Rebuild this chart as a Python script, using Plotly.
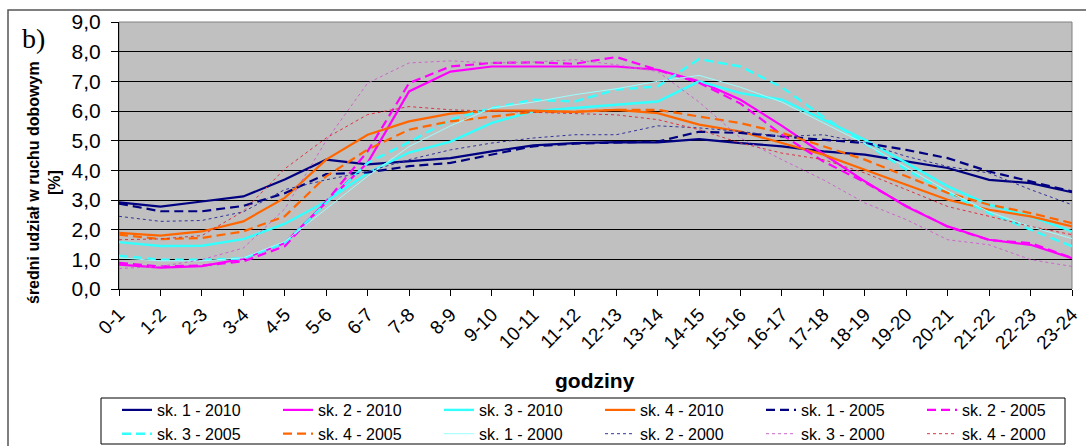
import plotly.graph_objects as go

# ---------------- data ----------------
hours = ["0-1", "1-2", "2-3", "3-4", "4-5", "5-6", "6-7", "7-8", "8-9", "9-10",
         "10-11", "11-12", "12-13", "13-14", "14-15", "15-16", "16-17", "17-18",
         "18-19", "19-20", "20-21", "21-22", "22-23", "23-24"]

sk1_2010 = [2.92, 2.78, 2.95, 3.12, 3.69, 4.36, 4.20, 4.30, 4.41, 4.64, 4.84, 4.92,
            4.95, 4.94, 5.05, 4.92, 4.81, 4.64, 4.53, 4.30, 4.08, 3.68, 3.57, 3.26]
sk2_2010 = [0.82, 0.72, 0.77, 1.02, 1.55, 2.92, 4.25, 6.66, 7.33, 7.50, 7.50, 7.50,
            7.50, 7.39, 7.00, 6.38, 5.50, 4.55, 3.63, 2.78, 2.11, 1.66, 1.49, 1.04]
sk3_2010 = [1.58, 1.45, 1.46, 1.68, 2.20, 2.95, 3.91, 4.60, 4.97, 5.60, 5.99, 6.10,
            6.21, 6.32, 7.00, 6.60, 6.38, 5.71, 5.03, 4.25, 3.46, 2.84, 2.45, 1.94]
sk4_2010 = [1.89, 1.80, 1.94, 2.28, 3.07, 4.36, 5.20, 5.65, 5.91, 6.01, 6.01, 5.97,
            6.04, 5.93, 5.54, 5.31, 4.92, 4.53, 4.02, 3.52, 3.01, 2.67, 2.45, 2.11]
sk1_2005 = [2.88, 2.62, 2.62, 2.80, 3.23, 3.87, 3.93, 4.14, 4.25, 4.53, 4.81, 4.90,
            4.94, 4.97, 5.30, 5.26, 5.14, 5.03, 4.92, 4.69, 4.41, 3.96, 3.63, 3.29]
sk2_2005 = [0.88, 0.76, 0.79, 0.93, 1.44, 2.95, 4.64, 6.94, 7.50, 7.62, 7.64, 7.59,
            7.82, 7.39, 6.95, 6.25, 5.20, 4.30, 3.60, 2.80, 2.10, 1.65, 1.55, 1.05]
sk3_2005 = [1.12, 0.99, 0.99, 1.03, 1.55, 2.90, 4.25, 4.95, 5.71, 6.10, 6.38, 6.32,
            6.72, 6.83, 7.75, 7.50, 6.80, 5.80, 4.92, 4.02, 3.24, 2.56, 2.00, 1.44]
sk4_2005 = [1.83, 1.68, 1.72, 1.94, 2.45, 3.80, 4.70, 5.37, 5.65, 5.82, 5.97, 5.97,
            6.04, 6.04, 5.82, 5.59, 5.26, 4.81, 4.36, 3.80, 3.24, 2.84, 2.56, 2.22]
sk1_2000 = [1.05, 0.95, 0.95, 1.05, 1.60, 2.70, 3.80, 4.80, 5.50, 6.10, 6.30, 6.55,
            6.75, 7.00, 7.20, 6.80, 6.30, 5.60, 4.90, 4.10, 3.30, 2.60, 2.10, 1.70]
sk2_2000 = [2.45, 2.28, 2.31, 2.60, 3.35, 3.68, 3.96, 4.36, 4.69, 4.92, 5.09, 5.20,
            5.20, 5.50, 5.43, 5.31, 5.14, 5.20, 4.92, 4.47, 4.13, 3.91, 3.35, 2.84]
sk3_2000 = [0.69, 0.76, 0.99, 1.38, 2.70, 5.00, 6.94, 7.62, 7.69, 7.62, 7.65, 7.73,
            7.56, 7.33, 6.30, 5.09, 4.36, 3.68, 2.90, 2.34, 1.66, 1.49, 0.99, 0.76]
sk4_2000 = [1.66, 1.69, 1.80, 2.62, 4.05, 5.09, 5.88, 6.15, 6.04, 6.00, 5.97, 5.93,
            5.87, 5.71, 5.37, 4.92, 4.58, 4.36, 3.91, 3.35, 2.78, 2.45, 2.11, 1.83]

y_ticks = [0, 1, 2, 3, 4, 5, 6, 7, 8, 9]

series = [
    ("sk. 1 - 2010", sk1_2010, "#000080", 2.2, "solid"),
    ("sk. 2 - 2010", sk2_2010, "#FF00FF", 2.2, "solid"),
    ("sk. 3 - 2010", sk3_2010, "#33FFFF", 2.4, "solid"),
    ("sk. 4 - 2010", sk4_2010, "#FF6600", 2.2, "solid"),
    ("sk. 1 - 2005", sk1_2005, "#000080", 2.2, "9px,5px"),
    ("sk. 2 - 2005", sk2_2005, "#FF00FF", 2.2, "9px,5px"),
    ("sk. 3 - 2005", sk3_2005, "#33FFFF", 2.4, "9px,5px"),
    ("sk. 4 - 2005", sk4_2005, "#FF6600", 2.2, "9px,5px"),
    ("sk. 1 - 2000", sk1_2000, "#99FFFF", 1.0, "solid"),
    ("sk. 2 - 2000", sk2_2000, "#333399", 1.0, "dot"),
    ("sk. 3 - 2000", sk3_2000, "#CC66CC", 1.0, "dot"),
    ("sk. 4 - 2000", sk4_2000, "#DD3344", 1.0, "dot"),
]

W, H = 1086, 446
ML, MR, MT, MB = 119, 14, 22, 157
PW, PH = W - ML - MR, H - MT - MB


def px_x(p):
    return (p - ML) / PW


def px_y(p):
    return (H - MB - p) / PH


FONT = "Arial, Liberation Sans, sans-serif"

fig = go.Figure()
for name, vals, col, wd, dash in series:
    fig.add_trace(go.Scatter(x=hours, y=vals, name=name, mode="lines",
                             line=dict(color=col, width=wd, dash=dash)))

fig.update_layout(
    width=W, height=H,
    margin=dict(l=ML, r=MR, t=MT, b=MB, autoexpand=False),
    paper_bgcolor="white",
    plot_bgcolor="#C0C0C0",
    separators=", ",
    font=dict(family=FONT, color="black"),
    showlegend=True,
    legend=dict(
        orientation="h",
        x=px_x(117), y=px_y(393), xanchor="left", yanchor="top",
        bgcolor="rgba(0,0,0,0)", borderwidth=0,
        font=dict(family=FONT, size=16, color="black"),
        entrywidth=116, entrywidthmode="pixels",
        traceorder="normal",
    ),
    xaxis=dict(
        type="category", range=[0, 23],
        showgrid=False, zeroline=False, automargin=False,
        showline=True, linecolor="black", linewidth=1,
        ticks="outside", ticklen=6, tickcolor="black",
        tickangle=-45, tickfont=dict(family=FONT, size=19, color="black"),
    ),
    yaxis=dict(
        range=[0, 9], tickvals=y_ticks, tickformat=".1f",
        showgrid=True, gridcolor="black", gridwidth=1,
        zeroline=False, automargin=False,
        showline=True, linecolor="black", linewidth=1,
        ticks="outside", ticklen=7, tickcolor="black",
        ticklabelstandoff=6,
        tickfont=dict(family=FONT, size=21, color="black"),
    ),
)

shapes = [
    # outer chart frame
    dict(type="rect", xref="paper", yref="paper",
         x0=px_x(8), x1=px_x(1095), y0=px_y(460), y1=px_y(10),
         line=dict(color="#555555", width=1.5), layer="below"),
    # plot-area border (grey)
    dict(type="rect", xref="paper", yref="paper",
         x0=0, x1=1, y0=0, y1=1,
         line=dict(color="#808080", width=1), layer="below"),
    # legend box
    dict(type="rect", xref="paper", yref="paper",
         x0=px_x(101), x1=px_x(1065), y0=px_y(444), y1=px_y(398),
         line=dict(color="black", width=1), fillcolor="white", layer="below"),
]
fig.update_layout(shapes=shapes)

fig.add_annotation(text="b)", xref="paper", yref="paper",
                   x=px_x(20), y=px_y(38), xanchor="left", yanchor="middle",
                   showarrow=False,
                   font=dict(family="Times New Roman, Liberation Serif, serif", size=28, color="black"))
fig.add_annotation(text="<b>średni udział w ruchu dobowym<br>[%]</b>",
                   xref="paper", yref="paper", x=px_x(44), y=px_y(183),
                   xanchor="center", yanchor="middle", textangle=-90,
                   showarrow=False,
                   font=dict(family=FONT, size=16, color="black"))
fig.add_annotation(text="<b>godziny</b>", xref="paper", yref="paper",
                   x=px_x(595), y=px_y(380), xanchor="center", yanchor="middle",
                   showarrow=False,
                   font=dict(family=FONT, size=21, color="black"))

fig.write_html("out.html")
